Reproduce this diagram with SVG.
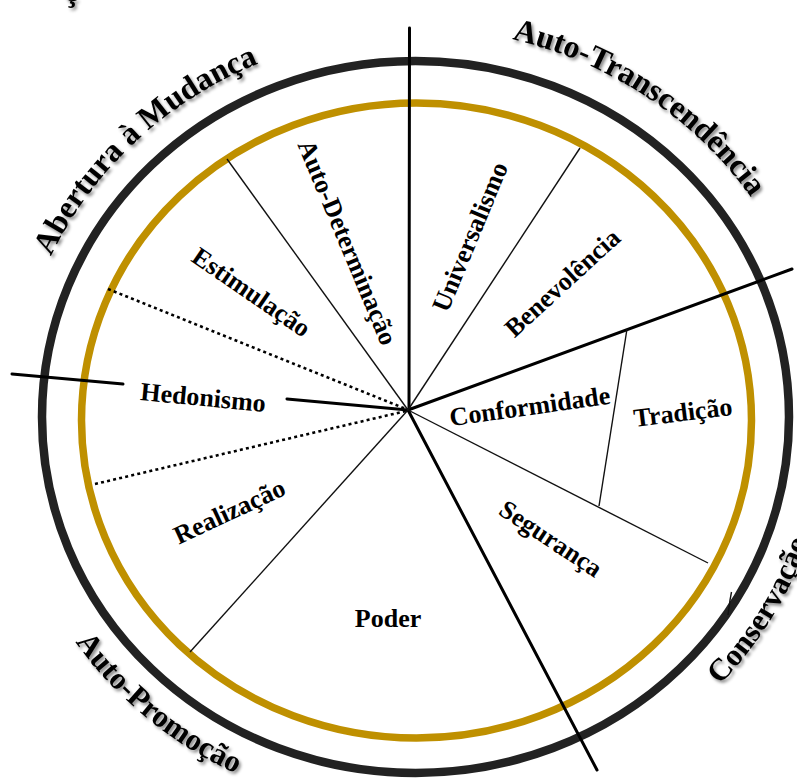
<svg xmlns="http://www.w3.org/2000/svg" width="797" height="781" viewBox="0 0 797 781">
<style>
.ring-black{fill:none;stroke:#222222;stroke-width:8.5}
.ring-gold{fill:none;stroke:#BF9000;stroke-width:7.5}
.thick{stroke:#000;stroke-width:3;fill:none;stroke-linecap:round}
.thin{stroke:#111;stroke-width:1.4;fill:none}
.dot{stroke:#000;stroke-width:2.6;fill:none;stroke-dasharray:3 3.2}
.outer{font-family:"Liberation Serif","Times New Roman",serif;font-weight:bold;font-size:32px;fill:#000}
.outer-b{font-family:"Liberation Serif","Times New Roman",serif;font-weight:bold;font-size:31px;fill:#000}
.inner{font-family:"Liberation Serif","Times New Roman",serif;font-weight:bold;font-size:26px;fill:#000;text-anchor:middle}
</style>
<defs>
<filter id="shadow" x="-10%" y="-10%" width="120%" height="130%">
<feDropShadow dx="2" dy="2.5" stdDeviation="1.5" flood-color="#000" flood-opacity="0.45"/>
</filter>
<path id="pAbertura" d="M 15.85 380.2 A 401.5 384 0 0 1 384.0 34.2"/>
<path id="pTrans" d="M 380.1 29.5 A 406.5 389 0 0 1 808.1 316.3"/>
<path id="pCons" d="M 556.9 789.1 A 413.5 396 0 0 0 822.7 348.2"/>
<path id="pPromo" d="M 7.1 478.9 A 413.5 396 0 0 0 408.3 812.9"/>
</defs>
<rect width="797" height="781" fill="#fff"/>

<g id="rings">
<ellipse class="ring-black" cx="415.5" cy="417" rx="373.5" ry="356"/>
<ellipse class="ring-gold" cx="416.5" cy="420.5" rx="335" ry="317.5"/>
</g>

<g id="connectors">
<line class="thick" x1="409.5" y1="28" x2="409" y2="410"/>
<line class="thick" x1="408" y1="410" x2="792" y2="269"/>
<line class="thick" x1="12" y1="374" x2="123" y2="384"/>
<line class="thick" x1="287" y1="399" x2="408" y2="410"/>
<line class="thick" x1="408" y1="410" x2="597" y2="770"/>
<line class="thin" x1="227" y1="159" x2="408" y2="410"/>
<line class="thin" x1="580" y1="148" x2="408" y2="410"/>
<line class="thin" x1="190" y1="652" x2="408" y2="410"/>
<line class="thin" x1="708" y1="563" x2="408" y2="410"/>
<line class="thin" x1="627" y1="329" x2="599" y2="506"/>
<line class="dot" x1="108" y1="289" x2="406" y2="409"/>
<line class="dot" x1="95" y1="484" x2="406" y2="411"/>
<path class="thin" d="M 731.5 592 L 730 600 L 728 615"/>
</g>

<g id="outer-labels" filter="url(#shadow)">
<text class="outer" x="64" y="0.5" font-size="20">ç</text>
<text class="outer"><textPath href="#pAbertura" startOffset="50%" text-anchor="middle">Abertura à Mudança</textPath></text>
<text class="outer"><textPath href="#pTrans" startOffset="50%" text-anchor="middle">Auto-Transcendência</textPath></text>
<text class="outer-b"><textPath href="#pCons" startOffset="50%" text-anchor="middle">Conservação</textPath></text>
<text class="outer-b"><textPath href="#pPromo" startOffset="50%" text-anchor="middle">Auto-Promoção</textPath></text>
</g>

<g id="autodeterminacao"><text class="inner" transform="translate(346,243) rotate(67.3)" y="7">Auto-Determinação</text></g>
<g id="estimulacao"><text class="inner" transform="translate(250.5,293.5) rotate(34.5)" y="7">Estimulação</text></g>
<g id="hedonismo"><text class="inner" transform="translate(203,399) rotate(5.5)" y="7" font-size="26.5">Hedonismo</text></g>
<g id="realizacao"><text class="inner" transform="translate(230,513) rotate(-25)" y="7" font-size="27.5">Realização</text></g>
<g id="poder"><text class="inner" transform="translate(388,620)" y="7">Poder</text></g>
<g id="seguranca"><text class="inner" transform="translate(550,540) rotate(33.5)" y="7">Segurança</text></g>
<g id="conformidade"><text class="inner" transform="translate(530,408) rotate(-8)" y="7" font-size="25.5">Conformidade</text></g>
<g id="tradicao"><text class="inner" transform="translate(683,414) rotate(-7)" y="7">Tradição</text></g>
<g id="benevolencia"><text class="inner" transform="translate(563.5,284) rotate(-42.5)" y="7">Benevolência</text></g>
<g id="universalismo"><text class="inner" transform="translate(471.5,237.5) rotate(-67.5)" y="7">Universalismo</text></g>
</svg>
